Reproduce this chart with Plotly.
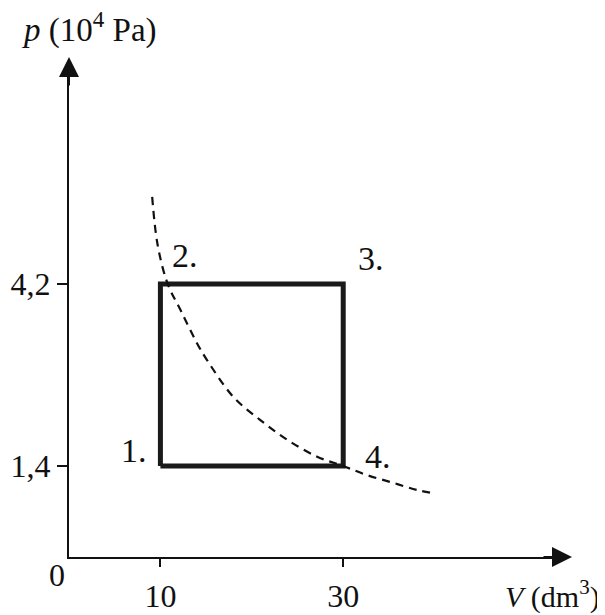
import plotly.graph_objects as go

# ---- data ----
cycle_V = [10, 10, 30, 30, 10]          # dm^3
cycle_p = [1.4, 4.2, 4.2, 1.4, 1.4]     # 10^4 Pa
point_labels = ["1.", "2.", "3.", "4."]
point_V = [10, 10, 30, 30]
point_p = [1.4, 4.2, 4.2, 1.4]

curve_V = [9.1, 9.7, 10.8, 12.2, 14.0, 15.1, 18.0, 20.9, 23.9, 27.2, 30.0, 32.6, 35.5, 38.1, 40.0]
curve_p = [5.54, 4.80, 4.20, 3.80, 3.29, 3.03, 2.46, 2.11, 1.80, 1.54, 1.40, 1.26, 1.14, 1.03, 0.98]

x_tickvals = [10, 30]
x_ticktext = ["10", "30"]
y_tickvals = [1.4, 4.2]
y_ticktext = ["1,4", "4,2"]

FONT = "Liberation Serif"
FS = 32
INK = "#111"

# page shows an 8px body margin; work in page pixels and convert
OFF = 8
W, H = 605 - OFF, 615 - OFF
ox, oy = 68.5 - OFF, 557 - OFF          # origin in figure pixels
right_px, top_px = 555 - OFF, 75 - OFF  # plot-area edges
L, T = ox, top_px
R, B = W - right_px, H - oy
pw, ph = right_px - ox, oy - top_px
xpx, ypx = 9.15, 65.0


def px(xp):  # page pixel -> paper x
    return (xp - OFF - ox) / pw


def py(yp):  # page pixel -> paper y
    return (oy - (yp - OFF)) / ph


fig = go.Figure()
fig.add_trace(go.Scatter(x=cycle_V, y=cycle_p, mode="lines",
                         line=dict(color="#1a1a1a", width=5), cliponaxis=False,
                         hoverinfo="skip"))
fig.add_trace(go.Scatter(x=curve_V, y=curve_p, mode="lines",
                         line=dict(color=INK, width=2.2, dash="8px,6px", shape="spline"),
                         cliponaxis=False, hoverinfo="skip"))

# point labels
offsets = [(-26, 16), (25, 29), (28, 26), (35, 10)]
for lab, v, p, (dx, dy) in zip(point_labels, point_V, point_p, offsets):
    fig.add_annotation(x=v, y=p, text=lab, showarrow=False, xshift=dx, yshift=dy,
                       xanchor="center", yanchor="middle",
                       font=dict(family=FONT, size=34, color=INK))

# axis arrowheads
fig.add_annotation(xref="paper", yref="paper", x=px(572), y=0, ax=-30, ay=0,
                   showarrow=True, arrowhead=2, arrowsize=2, arrowwidth=2,
                   arrowcolor=INK, text="")
fig.add_annotation(xref="paper", yref="paper", x=0, y=py(57), ax=0, ay=30,
                   showarrow=True, arrowhead=2, arrowsize=2, arrowwidth=2,
                   arrowcolor=INK, text="")

# origin label
fig.add_annotation(xref="paper", yref="paper", x=px(56), y=py(575), text="0",
                   showarrow=False, xanchor="center", yanchor="middle",
                   font=dict(family=FONT, size=FS, color=INK))
# axis titles
fig.add_annotation(xref="paper", yref="paper", x=px(19), y=py(28),
                   xanchor="left", yanchor="middle", showarrow=False,
                   text="<i>p</i> (10<sup>4</sup> Pa)",
                   font=dict(family=FONT, size=33, color=INK))
fig.add_annotation(xref="paper", yref="paper", x=px(602), y=py(594),
                   xanchor="right", yanchor="middle", showarrow=False,
                   text="<i>V</i> (dm<sup>3</sup>)",
                   font=dict(family=FONT, size=30, color=INK))

fig.update_layout(
    width=W, height=H, autosize=False,
    margin=dict(l=L, r=R, t=T, b=B, pad=0),
    plot_bgcolor="white", paper_bgcolor="white",
    showlegend=False,
    xaxis=dict(range=[0, pw / xpx], showgrid=False, zeroline=False, automargin=False,
               showline=True, linecolor=INK, linewidth=2,
               tickmode="array", tickvals=x_tickvals, ticktext=x_ticktext,
               ticks="outside", ticklen=8, tickwidth=2, tickcolor=INK,
               ticklabelstandoff=2,
               tickfont=dict(family=FONT, size=FS, color=INK)),
    yaxis=dict(range=[0, ph / ypx], showgrid=False, zeroline=False, automargin=False,
               showline=True, linecolor=INK, linewidth=2,
               tickmode="array", tickvals=y_tickvals, ticktext=y_ticktext,
               ticks="outside", ticklen=10, tickwidth=2, tickcolor=INK,
               tickfont=dict(family=FONT, size=FS, color=INK)),
)

fig.write_html("out.html")
